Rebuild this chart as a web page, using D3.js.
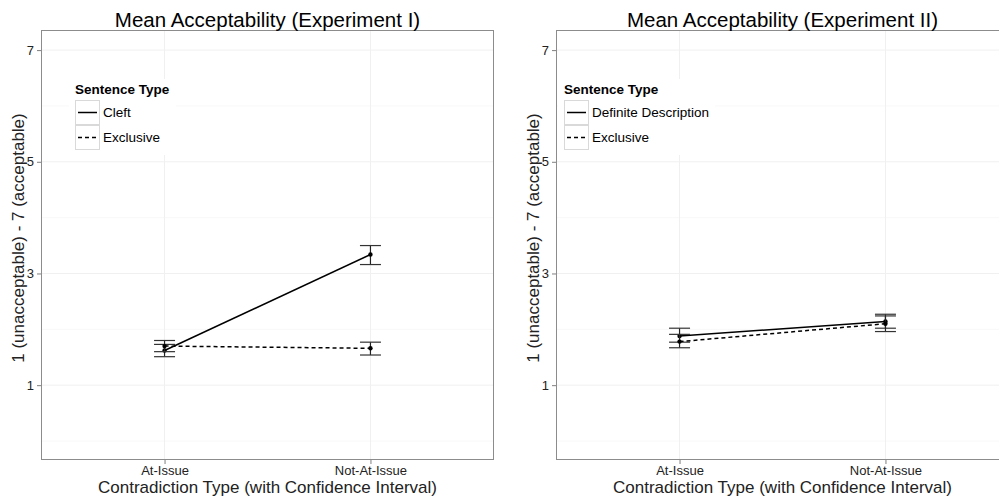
<!DOCTYPE html>
<html>
<head>
  <meta charset="utf-8" />
  <title>Mean Acceptability</title>
  <script src="https://cdn.jsdelivr.net/npm/d3@7"></script>
  <style>
    body { margin: 0; background: white; }
    svg { display: block; font-family: "Liberation Sans", Arial, sans-serif; }
  </style>
</head>
<body>
<svg id="chart" width="999" height="502"></svg>
<script>
  // categories and ticks
  var categories = ["At-Issue", "Not-At-Issue"];
  var yTicks = [1, 3, 5, 7];
  var yMinor = [0, 2, 4, 6];

  // Experiment I
  var cleftMean = [1.62, 3.34];
  var cleftLo = [1.51, 3.16];
  var cleftHi = [1.73, 3.50];
  var excl1Mean = [1.70, 1.66];
  var excl1Lo = [1.60, 1.54];
  var excl1Hi = [1.80, 1.77];

  // Experiment II
  var defMean = [1.88, 2.14];
  var defLo = [1.77, 2.02];
  var defHi = [2.02, 2.27];
  var excl2Mean = [1.78, 2.10];
  var excl2Lo = [1.67, 1.96];
  var excl2Hi = [1.91, 2.24];

  var panels = [
    {
      title: "Mean Acceptability (Experiment I)",
      x0: 41, x1: 494,
      legendX: 75,
      series: [
        { name: "Cleft", mean: cleftMean, lo: cleftLo, hi: cleftHi, dash: null },
        { name: "Exclusive", mean: excl1Mean, lo: excl1Lo, hi: excl1Hi, dash: "4,3" }
      ]
    },
    {
      title: "Mean Acceptability (Experiment II)",
      x0: 556, x1: 1009,
      legendX: 564,
      series: [
        { name: "Definite Description", mean: defMean, lo: defLo, hi: defHi, dash: null },
        { name: "Exclusive", mean: excl2Mean, lo: excl2Lo, hi: excl2Hi, dash: "4,3" }
      ]
    }
  ];

  var svg = d3.select("#chart");
  var y0 = 30, y1 = 460;

  var y = d3.scaleLinear().domain([-0.34, 7.36]).range([y1, y0]);

  panels.forEach(function (p) {
    var x = d3.scalePoint().domain(categories).range([p.x0, p.x1]).padding(0.6);
    var g = svg.append("g");
    var cx = (p.x0 + p.x1) / 2;

    g.append("rect")
      .attr("x", p.x0).attr("y", y0)
      .attr("width", p.x1 - p.x0).attr("height", y1 - y0)
      .style("fill", "white");

    // grid
    g.selectAll(".minor").data(yMinor).enter().append("line")
      .attr("x1", p.x0).attr("x2", p.x1)
      .attr("y1", function (d) { return y(d) }).attr("y2", function (d) { return y(d) })
      .style("stroke", "#f8f8f8").style("stroke-width", 1);
    g.selectAll(".majorY").data(yTicks).enter().append("line")
      .attr("x1", p.x0).attr("x2", p.x1)
      .attr("y1", function (d) { return y(d) }).attr("y2", function (d) { return y(d) })
      .style("stroke", "#f0f0f0").style("stroke-width", 1);
    g.selectAll(".majorX").data(categories).enter().append("line")
      .attr("x1", function (d) { return x(d) }).attr("x2", function (d) { return x(d) })
      .attr("y1", y0).attr("y2", y1)
      .style("stroke", "#f0f0f0").style("stroke-width", 1);

    // legend
    var lg = g.append("g");
    var labels = [];
    lg.append("text")
      .attr("x", p.legendX).attr("y", 94)
      .style("font-size", "13.5px").style("font-weight", "bold")
      .text("Sentence Type");
    p.series.forEach(function (s, i) {
      var ky = 100 + i * 25;
      lg.append("rect")
        .attr("x", p.legendX + 0.5).attr("y", ky + 0.5)
        .attr("width", 24).attr("height", 24)
        .style("fill", "white").style("stroke", "#d9d9d9");
      lg.append("line")
        .attr("x1", p.legendX + 3).attr("x2", p.legendX + 22)
        .attr("y1", ky + 12.5).attr("y2", ky + 12.5)
        .style("stroke", "black").style("stroke-width", 1.5)
        .style("stroke-dasharray", s.dash);
      labels.push(lg.append("text")
        .attr("x", p.legendX + 28).attr("y", ky + 17)
        .style("font-size", "13.5px")
        .text(s.name));
    });
    var lw = d3.max(lg.selectAll("text").nodes(), function (n) { return n.getBBox().x + n.getBBox().width }) - p.legendX;
    lg.insert("rect", ":first-child")
      .attr("x", p.legendX - 6).attr("y", 79)
      .attr("width", lw + 12).attr("height", 76)
      .style("fill", "white");

    // error bars, lines, points
    p.series.forEach(function (s) {
      var pts = categories.map(function (c, i) { return { c: c, m: s.mean[i], lo: s.lo[i], hi: s.hi[i] } });
      var eb = g.append("g");
      pts.forEach(function (d) {
        eb.append("line")
          .attr("x1", x(d.c)).attr("x2", x(d.c))
          .attr("y1", y(d.lo)).attr("y2", y(d.hi))
          .style("stroke", "#222").style("stroke-width", 1.2);
        [d.lo, d.hi].forEach(function (v) {
          eb.append("line")
            .attr("x1", x(d.c) - 10.5).attr("x2", x(d.c) + 10.5)
            .attr("y1", y(v)).attr("y2", y(v))
            .style("stroke", "#333").style("stroke-width", 1.2);
        });
      });
      g.append("path")
        .datum(pts)
        .attr("d", d3.line().x(function (d) { return x(d.c) }).y(function (d) { return y(d.m) }))
        .style("fill", "none").style("stroke", "black").style("stroke-width", 1.5)
        .style("stroke-dasharray", s.dash);
      g.selectAll(null).data(pts).enter().append("circle")
        .attr("cx", function (d) { return x(d.c) }).attr("cy", function (d) { return y(d.m) })
        .attr("r", 2.2).style("fill", "black");
    });

    // border
    g.append("rect")
      .attr("x", p.x0 + 0.5).attr("y", y0 + 0.5)
      .attr("width", p.x1 - p.x0 - 1).attr("height", y1 - y0 - 1)
      .style("fill", "none").style("stroke", "#8c8c8c");

    // axes
    var ya = g.append("g").attr("transform", "translate(" + p.x0 + ",0)")
      .call(d3.axisLeft(y).tickValues(yTicks).tickSize(4).tickSizeOuter(0).tickPadding(3));
    ya.select(".domain").remove();
    ya.selectAll("line").style("stroke", "#7f7f7f");
    ya.selectAll("text").style("font-size", "13px").style("fill", "#222").style("font-family", "Liberation Sans, Arial, sans-serif");

    var xa = g.append("g").attr("transform", "translate(0," + y1 + ")")
      .call(d3.axisBottom(x).tickSize(4).tickSizeOuter(0).tickPadding(2));
    xa.select(".domain").remove();
    xa.selectAll("line").style("stroke", "#7f7f7f");
    xa.selectAll("text").style("font-size", "13px").style("fill", "#222").style("font-family", "Liberation Sans, Arial, sans-serif");

    // titles
    g.append("text")
      .attr("x", cx).attr("y", 27)
      .attr("text-anchor", "middle")
      .style("font-size", "20.5px").style("fill", "black")
      .text(p.title);
    g.append("text")
      .attr("x", cx).attr("y", 493)
      .attr("text-anchor", "middle")
      .style("font-size", "17px").style("fill", "#222")
      .text("Contradiction Type (with Confidence Interval)");
    g.append("text")
      .attr("transform", "translate(" + (p.x0 - 17) + ",238) rotate(-90)")
      .attr("text-anchor", "middle")
      .style("font-size", "17px").style("fill", "#222")
      .text("1 (unacceptable) - 7 (acceptable)");
  });
</script>
</body>
</html>
